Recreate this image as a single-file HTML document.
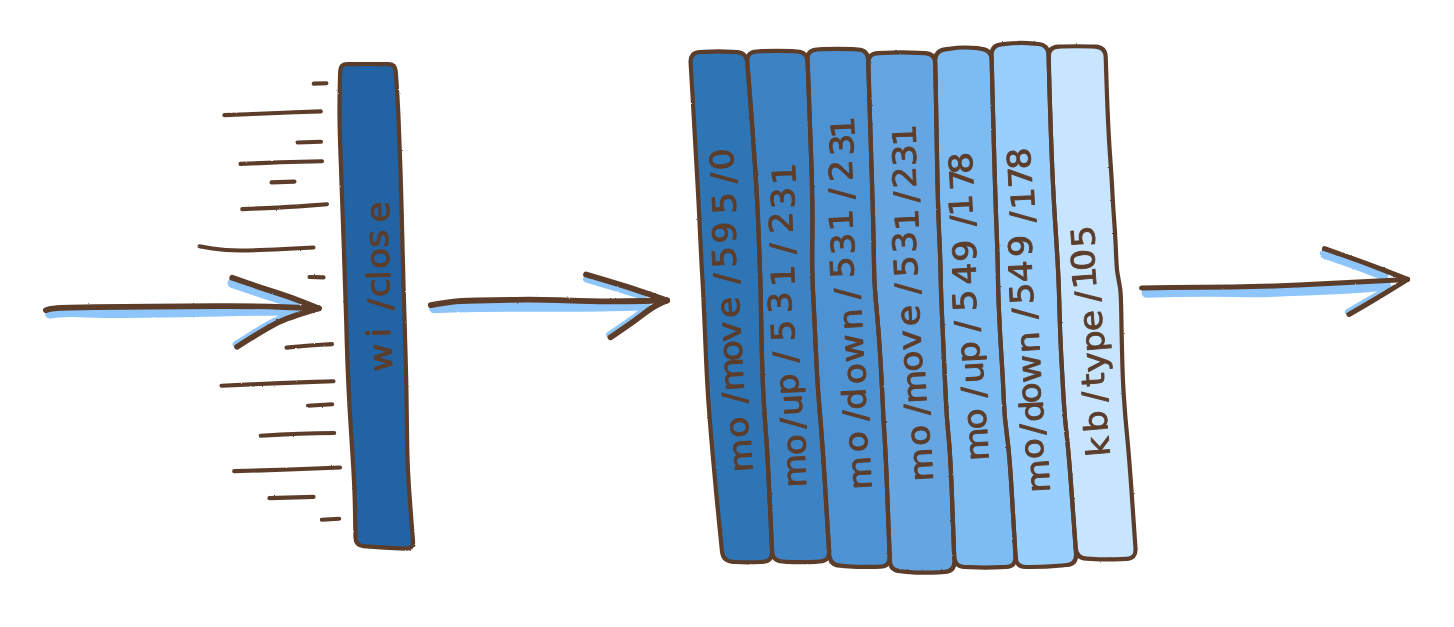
<!DOCTYPE html>
<html lang="en">
<head>
<meta charset="utf-8">
<title>Event queue</title>
<style>
html,body{margin:0;padding:0;background:#fff;}
body{width:1454px;height:627px;overflow:hidden;}
svg{display:block;}
text{font-family:"DejaVu Sans", "Liberation Sans", sans-serif;font-size:32px;fill:#5c3d2c;stroke:#5c3d2c;stroke-width:0.9px;stroke-linejoin:round;font-kerning:none;}
</style>
</head>
<body>
<svg width="1454" height="627" viewBox="0 0 1454 627">
<defs>
<filter id="rough" x="0" y="0" width="1454" height="627" filterUnits="userSpaceOnUse">
<feTurbulence type="fractalNoise" baseFrequency="0.42" numOctaves="1" seed="7" result="n"/>
<feDisplacementMap in="SourceGraphic" in2="n" scale="2.0" xChannelSelector="R" yChannelSelector="G"/>
</filter>
<filter id="rough2" x="0" y="0" width="1454" height="627" filterUnits="userSpaceOnUse">
<feTurbulence type="fractalNoise" baseFrequency="0.3" numOctaves="1" seed="3" result="n"/>
<feDisplacementMap in="SourceGraphic" in2="n" scale="1.4" xChannelSelector="R" yChannelSelector="G"/>
</filter>
</defs>
<rect width="1454" height="627" fill="#ffffff"/>
<g filter="url(#rough)">
<g id="shadows">
<path d="M50.0 313.6L59.0 312.6Q68.0 311.6 87.0 312.4L87.0 312.4Q106.0 313.2 125.5 313.0L125.5 313.0Q145.0 312.8 167.5 312.4L167.5 312.4Q190.0 311.9 218.5 311.4L218.5 311.4Q247.0 310.8 271.5 310.7L296.0 310.6" fill="none" stroke="#8ec6fb" stroke-width="10" stroke-linecap="round" stroke-linejoin="round"/>
<path d="M232.5 283.0L246.5 287.8Q260.5 292.6 274.4 297.0L274.4 297.0Q288.2 301.5 291.5 302.7L294.7 304.0" fill="none" stroke="#8ec6fb" stroke-width="10" stroke-linecap="round" stroke-linejoin="round"/>
<path d="M235.9 344.2L248.7 336.2Q261.5 328.2 269.7 323.7L269.7 323.7Q277.8 319.2 283.6 316.9L289.4 314.7" fill="none" stroke="#8ec6fb" stroke-width="6.5" stroke-linecap="round" stroke-linejoin="round"/>
<path d="M434.0 308.6L446.0 308.1Q458.0 307.5 477.0 307.2L477.0 307.2Q496.0 306.9 515.5 306.9L515.5 306.9Q535.0 306.9 557.5 306.9L557.5 307.0Q580.0 307.0 600.0 306.8L600.0 306.8Q620.0 306.5 633.0 306.1L646.0 305.8" fill="none" stroke="#8ec6fb" stroke-width="9.5" stroke-linecap="round" stroke-linejoin="round"/>
<path d="M586.8 278.9L607.7 285.1Q628.7 291.3 635.9 293.8L643.0 296.3" fill="none" stroke="#8ec6fb" stroke-width="7.5" stroke-linecap="round" stroke-linejoin="round"/>
<path d="M609.3 334.7L620.8 326.9Q632.3 319.2 637.9 314.9L643.4 310.6" fill="none" stroke="#8ec6fb" stroke-width="6.5" stroke-linecap="round" stroke-linejoin="round"/>
<path d="M1146.5 292.7L1176.2 292.0Q1206.0 291.4 1234.8 291.9L1234.8 291.9Q1263.6 292.5 1281.8 291.6L1281.8 291.6Q1300.0 290.7 1324.0 289.8L1324.0 289.8Q1348.0 288.8 1367.0 287.2L1386.0 285.5" fill="none" stroke="#8ec6fb" stroke-width="10" stroke-linecap="round" stroke-linejoin="round"/>
<path d="M1324.8 253.8L1343.5 260.3Q1362.3 266.9 1372.8 271.0L1383.4 275.1" fill="none" stroke="#8ec6fb" stroke-width="10" stroke-linecap="round" stroke-linejoin="round"/>
<path d="M1348.1 312.0L1363.4 303.1Q1378.6 294.3 1379.6 293.7L1380.7 293.0" fill="none" stroke="#8ec6fb" stroke-width="6.5" stroke-linecap="round" stroke-linejoin="round"/>
</g>
<g id="strokes">
<path d="M45.8 310.2L48.9 309.3Q52.0 308.4 61.0 307.9L61.0 307.9Q70.0 307.5 95.0 307.2L95.0 307.2Q120.0 306.9 151.5 306.6L151.5 306.6Q183.0 306.4 216.5 306.1L216.5 306.1Q250.0 305.8 284.4 307.1L318.8 308.3" fill="none" stroke="#5c3d2c" stroke-width="5.7" stroke-linecap="round" stroke-linejoin="round"/>
<path d="M232.2 277.8L247.1 282.9Q262.0 288.0 276.0 292.5L276.0 292.5Q290.0 297.0 304.4 302.6L318.8 308.3" fill="none" stroke="#5c3d2c" stroke-width="5.7" stroke-linecap="round" stroke-linejoin="round"/>
<path d="M237.0 346.8L249.9 338.7Q262.9 330.6 270.9 326.2L270.9 326.2Q278.8 321.8 286.8 318.7L286.8 318.7Q294.7 315.6 306.8 311.9L318.8 308.3" fill="none" stroke="#5c3d2c" stroke-width="5.7" stroke-linecap="round" stroke-linejoin="round"/>
<path d="M430.8 305.2L437.9 303.9Q445.0 302.6 451.6 301.8L451.6 301.8Q458.3 300.9 477.4 300.5L477.4 300.5Q496.5 300.2 515.6 299.8L515.6 299.8Q534.8 299.4 557.4 300.2L557.4 300.2Q580.0 301.1 600.0 301.4L600.0 301.4Q620.0 301.6 643.5 301.0L667.0 300.4" fill="none" stroke="#5c3d2c" stroke-width="5.8" stroke-linecap="round" stroke-linejoin="round"/>
<path d="M586.0 274.5L608.0 281.0Q630.0 287.5 648.5 293.9L667.0 300.4" fill="none" stroke="#5c3d2c" stroke-width="5.8" stroke-linecap="round" stroke-linejoin="round"/>
<path d="M610.5 337.3L622.2 329.4Q634.0 321.4 643.5 314.0L643.5 314.0Q653.0 306.6 660.0 303.5L667.0 300.4" fill="none" stroke="#5c3d2c" stroke-width="5.8" stroke-linecap="round" stroke-linejoin="round"/>
<path d="M1141.5 288.0L1170.8 287.6Q1200.0 287.2 1232.0 287.0L1232.0 287.0Q1264.0 286.8 1303.9 284.8L1308.1 284.5Q1348.0 282.5 1377.8 280.9L1407.5 279.4" fill="none" stroke="#5c3d2c" stroke-width="5.0" stroke-linecap="round" stroke-linejoin="round"/>
<path d="M1324.5 248.6L1344.2 255.5Q1364.0 262.4 1385.8 270.9L1407.5 279.4" fill="none" stroke="#5c3d2c" stroke-width="5.0" stroke-linecap="round" stroke-linejoin="round"/>
<path d="M1349.0 314.5L1364.5 305.5Q1380.0 296.5 1393.8 287.9L1407.5 279.4" fill="none" stroke="#5c3d2c" stroke-width="5.0" stroke-linecap="round" stroke-linejoin="round"/>
<path d="M313.7 83.6L326.4 83.2" fill="none" stroke="#5c3d2c" stroke-width="4.1" stroke-linecap="round" stroke-linejoin="round"/>
<path d="M224.4 115.1L247.2 114.2Q270.0 113.2 295.4 112.3L320.8 111.4" fill="none" stroke="#5c3d2c" stroke-width="4.1" stroke-linecap="round" stroke-linejoin="round"/>
<path d="M297.5 142.5L321.0 141.7" fill="none" stroke="#5c3d2c" stroke-width="4.1" stroke-linecap="round" stroke-linejoin="round"/>
<path d="M240.5 163.9L260.3 163.1Q280.0 162.2 301.0 161.7L322.0 161.2" fill="none" stroke="#5c3d2c" stroke-width="4.1" stroke-linecap="round" stroke-linejoin="round"/>
<path d="M271.5 182.4L294.5 181.6" fill="none" stroke="#5c3d2c" stroke-width="4.1" stroke-linecap="round" stroke-linejoin="round"/>
<path d="M242.3 209.1L266.2 208.1Q290.0 207.0 308.5 205.6L327.0 204.2" fill="none" stroke="#5c3d2c" stroke-width="4.1" stroke-linecap="round" stroke-linejoin="round"/>
<path d="M199.5 246.3L212.3 248.4Q225.0 250.5 240.0 250.5L240.0 250.5Q255.0 250.5 284.2 249.0L313.5 247.5" fill="none" stroke="#5c3d2c" stroke-width="4.1" stroke-linecap="round" stroke-linejoin="round"/>
<path d="M309.5 277.0L323.5 277.4" fill="none" stroke="#5c3d2c" stroke-width="4.1" stroke-linecap="round" stroke-linejoin="round"/>
<path d="M286.5 347.6L298.3 346.5Q310.0 345.4 321.0 344.8L332.0 344.1" fill="none" stroke="#5c3d2c" stroke-width="4.1" stroke-linecap="round" stroke-linejoin="round"/>
<path d="M221.5 385.7L250.8 384.4Q280.0 383.0 306.7 382.1L333.5 381.3" fill="none" stroke="#5c3d2c" stroke-width="4.1" stroke-linecap="round" stroke-linejoin="round"/>
<path d="M308.0 405.7L332.2 404.3" fill="none" stroke="#5c3d2c" stroke-width="4.1" stroke-linecap="round" stroke-linejoin="round"/>
<path d="M260.7 435.7L280.4 434.6Q300.0 433.6 317.1 433.3L334.2 433.0" fill="none" stroke="#5c3d2c" stroke-width="4.1" stroke-linecap="round" stroke-linejoin="round"/>
<path d="M234.2 471.1L262.1 470.4Q290.0 469.6 315.0 468.5L340.0 467.5" fill="none" stroke="#5c3d2c" stroke-width="4.1" stroke-linecap="round" stroke-linejoin="round"/>
<path d="M269.4 498.1L313.6 496.9" fill="none" stroke="#5c3d2c" stroke-width="4.1" stroke-linecap="round" stroke-linejoin="round"/>
<path d="M321.8 519.7L339.2 518.7" fill="none" stroke="#5c3d2c" stroke-width="4.1" stroke-linecap="round" stroke-linejoin="round"/>
</g>
<g id="fills">
<path d="M340.2 71.2Q340.4 64.2 347.4 64.1L354.1 64.1Q367.8 63.9 381.5 64.1L388.2 64.1Q395.2 64.2 395.7 71.2L396.5 82.1Q397.7 100.0 398.4 115.0L398.4 115.0Q399.0 130.0 400.1 160.0L400.1 160.0Q401.2 190.0 402.1 230.0L402.4 241.0Q403.3 281.0 404.6 321.0L405.1 340.0Q406.4 380.0 406.7 410.0L406.7 410.0Q407.0 440.0 407.4 455.0L407.4 455.0Q407.8 470.0 408.8 485.0L408.8 485.0Q409.8 500.0 411.7 524.4L413.0 540.8Q413.7 548.8 405.7 548.6L399.1 548.4Q384.6 547.9 370.1 546.7L363.6 546.2Q355.6 545.5 355.5 537.5L355.2 522.8Q354.9 500.0 354.2 485.0L354.2 485.0Q353.5 470.0 352.5 455.0L352.5 455.0Q351.5 440.0 349.7 410.0L349.7 410.0Q347.9 380.0 346.7 340.0L346.2 321.0Q345.0 281.0 343.6 241.0L343.2 230.0Q341.8 190.0 340.7 160.0L340.7 160.0Q339.6 130.0 339.5 115.0L339.5 115.0Q339.4 100.0 339.9 82.1Z" fill="#2163a3"/>
<path d="M690.6 62.5Q690.0 52.5 700.0 52.0L704.2 51.8Q718.3 51.0 732.4 51.8L736.6 52.0Q746.5 52.5 747.3 62.5L749.6 91.2Q752.6 130.0 755.1 167.5L755.1 167.5Q757.6 205.0 758.6 232.5L758.6 232.5Q759.6 260.0 760.1 273.5L760.1 273.5Q760.6 287.0 761.0 311.0L761.0 311.0Q761.4 335.0 762.0 357.5L762.0 357.5Q762.6 380.0 763.6 398.5L763.6 398.5Q764.6 417.0 766.1 436.0L766.1 436.0Q767.6 455.0 769.4 495.0L772.1 551.3Q772.5 561.3 762.5 561.9L760.1 562.0Q747.8 562.8 735.4 562.0L733.0 561.9Q723.0 561.3 722.0 551.4L719.9 530.6Q716.8 500.0 714.8 477.5L714.8 477.5Q712.7 455.0 711.1 436.0L711.1 436.0Q709.5 417.0 708.2 398.5L708.2 398.5Q707.0 380.0 706.0 357.5L706.0 357.5Q705.0 335.0 704.0 311.0L704.0 311.0Q703.0 287.0 702.1 273.5L702.1 273.5Q701.3 260.0 700.0 232.5L700.0 232.5Q698.8 205.0 696.6 167.5L696.6 167.5Q694.5 130.0 692.3 91.2Z" fill="#2f75b5"/>
<path d="M747.3 62.0Q746.5 52.0 756.5 51.5L761.7 51.2Q776.9 50.5 792.0 51.2L797.2 51.5Q807.2 52.0 807.6 62.0L808.7 91.0Q810.2 130.0 811.5 167.5L811.5 167.5Q812.7 205.0 812.4 232.5L812.4 232.5Q812.0 260.0 812.4 273.5L812.4 273.5Q812.7 287.0 814.0 311.0L814.0 311.0Q815.2 335.0 816.2 357.5L816.2 357.5Q817.2 380.0 818.7 398.5L818.7 398.5Q820.2 417.0 821.7 436.0L821.7 436.0Q823.2 455.0 825.6 494.9L829.1 551.0Q829.7 561.0 819.7 561.5L815.4 561.8Q801.1 562.5 786.8 561.8L782.5 561.5Q772.5 561.0 772.0 551.0L769.4 495.0Q767.6 455.0 766.1 436.0L766.1 436.0Q764.6 417.0 763.6 398.5L763.6 398.5Q762.6 380.0 762.0 357.5L762.0 357.5Q761.4 335.0 761.0 311.0L761.0 311.0Q760.6 287.0 760.1 273.5L760.1 273.5Q759.6 260.0 758.6 232.5L758.6 232.5Q757.6 205.0 755.1 167.5L755.1 167.5Q752.6 130.0 749.5 91.0Z" fill="#3e83c4"/>
<path d="M807.5 60.0Q807.1 50.0 817.1 49.5L822.3 49.2Q837.5 48.5 852.7 49.2L858.0 49.5Q867.9 50.0 868.2 60.0L869.1 90.0Q870.3 130.0 871.5 167.5L871.5 167.5Q872.8 205.0 873.4 232.5L873.4 232.5Q874.0 260.0 874.2 273.5L874.2 273.5Q874.5 287.0 876.8 311.0L876.8 311.0Q879.0 335.0 880.3 357.5L880.3 357.5Q881.6 380.0 882.5 398.5L882.5 398.5Q883.3 417.0 884.5 436.0L884.5 436.0Q885.8 455.0 887.3 495.0L889.7 556.5Q890.1 566.5 880.1 566.7L875.0 566.9Q860.0 567.2 845.0 566.1L839.9 565.7Q830.0 565.0 829.3 555.0L825.6 494.9Q823.2 455.0 821.7 436.0L821.7 436.0Q820.2 417.0 818.7 398.5L818.7 398.5Q817.2 380.0 816.2 357.5L816.2 357.5Q815.2 335.0 814.0 311.0L814.0 311.0Q812.7 287.0 812.4 273.5L812.4 273.5Q812.0 260.0 812.4 232.5L812.4 232.5Q812.7 205.0 811.5 167.5L811.5 167.5Q810.2 130.0 808.7 90.0Z" fill="#4e92d2"/>
<path d="M868.3 63.5Q868.0 53.5 878.0 53.1L884.8 52.8Q901.5 52.0 918.3 52.8L925.0 53.1Q935.0 53.5 935.2 63.5L935.8 91.8Q936.6 130.0 937.2 167.5L937.2 167.5Q937.9 205.0 939.1 232.5L939.1 232.5Q940.4 260.0 940.6 273.5L940.6 273.5Q940.8 287.0 941.8 311.0L941.8 311.0Q942.9 335.0 943.9 357.5L943.9 357.5Q944.9 380.0 945.8 398.5L945.8 398.5Q946.6 417.0 948.5 436.0L948.5 436.0Q950.4 455.0 951.9 495.0L954.4 561.3Q954.7 571.3 944.8 571.9L938.6 572.3Q922.5 573.3 906.3 571.8L900.1 571.2Q890.2 570.3 889.8 560.3L887.3 495.0Q885.8 455.0 884.5 436.0L884.5 436.0Q883.3 417.0 882.5 398.5L882.5 398.5Q881.6 380.0 880.3 357.5L880.3 357.5Q879.0 335.0 876.8 311.0L876.8 311.0Q874.5 287.0 874.2 273.5L874.2 273.5Q874.0 260.0 873.4 232.5L873.4 232.5Q872.8 205.0 871.5 167.5L871.5 167.5Q870.3 130.0 869.2 91.8Z" fill="#65a6e2"/>
<path d="M935.2 61.0Q935.0 51.0 944.9 49.4L949.1 48.8Q963.2 46.5 977.3 48.2L981.5 48.8Q991.5 50.0 991.7 60.0L992.4 90.0Q993.4 130.0 994.5 167.5L994.5 167.5Q995.6 205.0 996.7 232.5L996.7 232.5Q997.7 260.0 997.9 273.5L997.9 273.5Q998.0 287.0 999.0 311.0L999.0 311.0Q1000.0 335.0 1001.5 357.5L1001.5 357.5Q1003.0 380.0 1003.7 398.5L1003.7 398.5Q1004.4 417.0 1007.0 436.0L1007.0 436.0Q1009.6 455.0 1011.9 494.9L1015.5 556.5Q1016.1 566.5 1006.1 567.0L1000.7 567.2Q985.3 568.0 969.9 567.2L964.5 567.0Q954.6 566.5 954.2 556.5L951.9 495.0Q950.4 455.0 948.5 436.0L948.5 436.0Q946.6 417.0 945.8 398.5L945.8 398.5Q944.9 380.0 943.9 357.5L943.9 357.5Q942.9 335.0 941.8 311.0L941.8 311.0Q940.8 287.0 940.6 273.5L940.6 273.5Q940.4 260.0 939.1 232.5L939.1 232.5Q937.9 205.0 937.2 167.5L937.2 167.5Q936.6 130.0 935.8 90.5Z" fill="#7dbbf3"/>
<path d="M991.6 55.5Q991.3 45.5 1001.3 44.4L1005.6 43.9Q1019.8 42.2 1034.1 43.6L1038.4 44.0Q1048.3 45.0 1048.6 55.0L1049.5 90.0Q1050.6 130.0 1052.2 167.5L1052.2 167.5Q1053.9 205.0 1055.8 232.5L1055.8 232.5Q1057.6 260.0 1058.2 273.5L1058.2 273.5Q1058.9 287.0 1059.5 311.0L1059.5 311.0Q1060.1 335.0 1061.3 357.5L1061.3 357.5Q1062.6 380.0 1063.6 398.5L1063.6 398.5Q1064.6 417.0 1066.8 436.0L1066.8 436.0Q1068.9 455.0 1071.8 494.9L1076.0 554.0Q1076.7 564.0 1066.8 565.0L1061.6 565.5Q1046.4 567.0 1031.3 567.0L1026.1 567.0Q1016.1 567.0 1015.6 557.0L1011.9 494.9Q1009.6 455.0 1007.0 436.0L1007.0 436.0Q1004.4 417.0 1003.7 398.5L1003.7 398.5Q1003.0 380.0 1001.5 357.5L1001.5 357.5Q1000.0 335.0 999.0 311.0L999.0 311.0Q998.0 287.0 997.9 273.5L997.9 273.5Q997.7 260.0 996.7 232.5L996.7 232.5Q995.6 205.0 994.5 167.5L994.5 167.5Q993.4 130.0 992.4 90.0Z" fill="#98cfff"/>
<path d="M1048.6 57.0Q1048.4 47.0 1058.4 46.6L1062.6 46.5Q1076.8 46.0 1091.1 46.5L1095.3 46.6Q1105.3 47.0 1105.7 57.0L1106.8 90.0Q1108.2 130.0 1110.0 155.0L1110.0 155.0Q1111.8 180.0 1112.4 192.5L1112.4 192.5Q1113.0 205.0 1114.0 218.0L1114.0 218.0Q1115.0 231.0 1115.7 245.5L1115.7 245.5Q1116.3 260.0 1116.7 266.0L1116.7 266.0Q1117.0 272.0 1118.2 277.5L1118.2 277.5Q1119.3 283.0 1120.2 289.0L1120.2 289.0Q1121.0 295.0 1121.3 315.0L1121.3 315.0Q1121.6 335.0 1122.2 357.5L1122.2 357.5Q1122.7 380.0 1124.0 398.5L1124.0 398.5Q1125.2 417.0 1127.1 436.0L1127.1 436.0Q1129.0 455.0 1131.8 494.9L1135.5 548.5Q1136.2 558.5 1126.2 558.9L1121.2 559.1Q1106.3 559.8 1091.3 558.9L1086.4 558.6Q1076.4 558.0 1075.7 548.0L1071.8 494.9Q1068.9 455.0 1066.8 436.0L1066.8 436.0Q1064.6 417.0 1063.6 398.5L1063.6 398.5Q1062.6 380.0 1061.3 357.5L1061.3 357.5Q1060.1 335.0 1059.5 311.0L1059.5 311.0Q1058.9 287.0 1058.2 273.5L1058.2 273.5Q1057.6 260.0 1055.8 232.5L1055.8 232.5Q1053.9 205.0 1052.2 167.5L1052.2 167.5Q1050.6 130.0 1049.5 90.0Z" fill="#c7e5ff"/>
</g>
<g id="outlines">
<path d="M340.2 71.2Q340.4 64.2 347.4 64.1L354.1 64.1Q367.8 63.9 381.5 64.1L388.2 64.1Q395.2 64.2 395.7 71.2L396.5 82.1Q397.7 100.0 398.4 115.0L398.4 115.0Q399.0 130.0 400.1 160.0L400.1 160.0Q401.2 190.0 402.1 230.0L402.4 241.0Q403.3 281.0 404.6 321.0L405.1 340.0Q406.4 380.0 406.7 410.0L406.7 410.0Q407.0 440.0 407.4 455.0L407.4 455.0Q407.8 470.0 408.8 485.0L408.8 485.0Q409.8 500.0 411.7 524.4L413.0 540.8Q413.7 548.8 405.7 548.6L399.1 548.4Q384.6 547.9 370.1 546.7L363.6 546.2Q355.6 545.5 355.5 537.5L355.2 522.8Q354.9 500.0 354.2 485.0L354.2 485.0Q353.5 470.0 352.5 455.0L352.5 455.0Q351.5 440.0 349.7 410.0L349.7 410.0Q347.9 380.0 346.7 340.0L346.2 321.0Q345.0 281.0 343.6 241.0L343.2 230.0Q341.8 190.0 340.7 160.0L340.7 160.0Q339.6 130.0 339.5 115.0L339.5 115.0Q339.4 100.0 339.9 82.1Z" fill="none" stroke="#5c3d2c" stroke-width="4.2" stroke-linejoin="round"/>
<path d="M690.6 62.5Q690.0 52.5 700.0 52.0L704.2 51.8Q718.3 51.0 732.4 51.8L736.6 52.0Q746.5 52.5 747.3 62.5L749.6 91.2Q752.6 130.0 755.1 167.5L755.1 167.5Q757.6 205.0 758.6 232.5L758.6 232.5Q759.6 260.0 760.1 273.5L760.1 273.5Q760.6 287.0 761.0 311.0L761.0 311.0Q761.4 335.0 762.0 357.5L762.0 357.5Q762.6 380.0 763.6 398.5L763.6 398.5Q764.6 417.0 766.1 436.0L766.1 436.0Q767.6 455.0 769.4 495.0L772.1 551.3Q772.5 561.3 762.5 561.9L760.1 562.0Q747.8 562.8 735.4 562.0L733.0 561.9Q723.0 561.3 722.0 551.4L719.9 530.6Q716.8 500.0 714.8 477.5L714.8 477.5Q712.7 455.0 711.1 436.0L711.1 436.0Q709.5 417.0 708.2 398.5L708.2 398.5Q707.0 380.0 706.0 357.5L706.0 357.5Q705.0 335.0 704.0 311.0L704.0 311.0Q703.0 287.0 702.1 273.5L702.1 273.5Q701.3 260.0 700.0 232.5L700.0 232.5Q698.8 205.0 696.6 167.5L696.6 167.5Q694.5 130.0 692.3 91.2Z" fill="none" stroke="#5c3d2c" stroke-width="4.2" stroke-linejoin="round"/>
<path d="M747.3 62.0Q746.5 52.0 756.5 51.5L761.7 51.2Q776.9 50.5 792.0 51.2L797.2 51.5Q807.2 52.0 807.6 62.0L808.7 91.0Q810.2 130.0 811.5 167.5L811.5 167.5Q812.7 205.0 812.4 232.5L812.4 232.5Q812.0 260.0 812.4 273.5L812.4 273.5Q812.7 287.0 814.0 311.0L814.0 311.0Q815.2 335.0 816.2 357.5L816.2 357.5Q817.2 380.0 818.7 398.5L818.7 398.5Q820.2 417.0 821.7 436.0L821.7 436.0Q823.2 455.0 825.6 494.9L829.1 551.0Q829.7 561.0 819.7 561.5L815.4 561.8Q801.1 562.5 786.8 561.8L782.5 561.5Q772.5 561.0 772.0 551.0L769.4 495.0Q767.6 455.0 766.1 436.0L766.1 436.0Q764.6 417.0 763.6 398.5L763.6 398.5Q762.6 380.0 762.0 357.5L762.0 357.5Q761.4 335.0 761.0 311.0L761.0 311.0Q760.6 287.0 760.1 273.5L760.1 273.5Q759.6 260.0 758.6 232.5L758.6 232.5Q757.6 205.0 755.1 167.5L755.1 167.5Q752.6 130.0 749.5 91.0Z" fill="none" stroke="#5c3d2c" stroke-width="4.2" stroke-linejoin="round"/>
<path d="M807.5 60.0Q807.1 50.0 817.1 49.5L822.3 49.2Q837.5 48.5 852.7 49.2L858.0 49.5Q867.9 50.0 868.2 60.0L869.1 90.0Q870.3 130.0 871.5 167.5L871.5 167.5Q872.8 205.0 873.4 232.5L873.4 232.5Q874.0 260.0 874.2 273.5L874.2 273.5Q874.5 287.0 876.8 311.0L876.8 311.0Q879.0 335.0 880.3 357.5L880.3 357.5Q881.6 380.0 882.5 398.5L882.5 398.5Q883.3 417.0 884.5 436.0L884.5 436.0Q885.8 455.0 887.3 495.0L889.7 556.5Q890.1 566.5 880.1 566.7L875.0 566.9Q860.0 567.2 845.0 566.1L839.9 565.7Q830.0 565.0 829.3 555.0L825.6 494.9Q823.2 455.0 821.7 436.0L821.7 436.0Q820.2 417.0 818.7 398.5L818.7 398.5Q817.2 380.0 816.2 357.5L816.2 357.5Q815.2 335.0 814.0 311.0L814.0 311.0Q812.7 287.0 812.4 273.5L812.4 273.5Q812.0 260.0 812.4 232.5L812.4 232.5Q812.7 205.0 811.5 167.5L811.5 167.5Q810.2 130.0 808.7 90.0Z" fill="none" stroke="#5c3d2c" stroke-width="4.2" stroke-linejoin="round"/>
<path d="M868.3 63.5Q868.0 53.5 878.0 53.1L884.8 52.8Q901.5 52.0 918.3 52.8L925.0 53.1Q935.0 53.5 935.2 63.5L935.8 91.8Q936.6 130.0 937.2 167.5L937.2 167.5Q937.9 205.0 939.1 232.5L939.1 232.5Q940.4 260.0 940.6 273.5L940.6 273.5Q940.8 287.0 941.8 311.0L941.8 311.0Q942.9 335.0 943.9 357.5L943.9 357.5Q944.9 380.0 945.8 398.5L945.8 398.5Q946.6 417.0 948.5 436.0L948.5 436.0Q950.4 455.0 951.9 495.0L954.4 561.3Q954.7 571.3 944.8 571.9L938.6 572.3Q922.5 573.3 906.3 571.8L900.1 571.2Q890.2 570.3 889.8 560.3L887.3 495.0Q885.8 455.0 884.5 436.0L884.5 436.0Q883.3 417.0 882.5 398.5L882.5 398.5Q881.6 380.0 880.3 357.5L880.3 357.5Q879.0 335.0 876.8 311.0L876.8 311.0Q874.5 287.0 874.2 273.5L874.2 273.5Q874.0 260.0 873.4 232.5L873.4 232.5Q872.8 205.0 871.5 167.5L871.5 167.5Q870.3 130.0 869.2 91.8Z" fill="none" stroke="#5c3d2c" stroke-width="4.2" stroke-linejoin="round"/>
<path d="M935.2 61.0Q935.0 51.0 944.9 49.4L949.1 48.8Q963.2 46.5 977.3 48.2L981.5 48.8Q991.5 50.0 991.7 60.0L992.4 90.0Q993.4 130.0 994.5 167.5L994.5 167.5Q995.6 205.0 996.7 232.5L996.7 232.5Q997.7 260.0 997.9 273.5L997.9 273.5Q998.0 287.0 999.0 311.0L999.0 311.0Q1000.0 335.0 1001.5 357.5L1001.5 357.5Q1003.0 380.0 1003.7 398.5L1003.7 398.5Q1004.4 417.0 1007.0 436.0L1007.0 436.0Q1009.6 455.0 1011.9 494.9L1015.5 556.5Q1016.1 566.5 1006.1 567.0L1000.7 567.2Q985.3 568.0 969.9 567.2L964.5 567.0Q954.6 566.5 954.2 556.5L951.9 495.0Q950.4 455.0 948.5 436.0L948.5 436.0Q946.6 417.0 945.8 398.5L945.8 398.5Q944.9 380.0 943.9 357.5L943.9 357.5Q942.9 335.0 941.8 311.0L941.8 311.0Q940.8 287.0 940.6 273.5L940.6 273.5Q940.4 260.0 939.1 232.5L939.1 232.5Q937.9 205.0 937.2 167.5L937.2 167.5Q936.6 130.0 935.8 90.5Z" fill="none" stroke="#5c3d2c" stroke-width="4.2" stroke-linejoin="round"/>
<path d="M991.6 55.5Q991.3 45.5 1001.3 44.4L1005.6 43.9Q1019.8 42.2 1034.1 43.6L1038.4 44.0Q1048.3 45.0 1048.6 55.0L1049.5 90.0Q1050.6 130.0 1052.2 167.5L1052.2 167.5Q1053.9 205.0 1055.8 232.5L1055.8 232.5Q1057.6 260.0 1058.2 273.5L1058.2 273.5Q1058.9 287.0 1059.5 311.0L1059.5 311.0Q1060.1 335.0 1061.3 357.5L1061.3 357.5Q1062.6 380.0 1063.6 398.5L1063.6 398.5Q1064.6 417.0 1066.8 436.0L1066.8 436.0Q1068.9 455.0 1071.8 494.9L1076.0 554.0Q1076.7 564.0 1066.8 565.0L1061.6 565.5Q1046.4 567.0 1031.3 567.0L1026.1 567.0Q1016.1 567.0 1015.6 557.0L1011.9 494.9Q1009.6 455.0 1007.0 436.0L1007.0 436.0Q1004.4 417.0 1003.7 398.5L1003.7 398.5Q1003.0 380.0 1001.5 357.5L1001.5 357.5Q1000.0 335.0 999.0 311.0L999.0 311.0Q998.0 287.0 997.9 273.5L997.9 273.5Q997.7 260.0 996.7 232.5L996.7 232.5Q995.6 205.0 994.5 167.5L994.5 167.5Q993.4 130.0 992.4 90.0Z" fill="none" stroke="#5c3d2c" stroke-width="4.2" stroke-linejoin="round"/>
<path d="M1048.6 57.0Q1048.4 47.0 1058.4 46.6L1062.6 46.5Q1076.8 46.0 1091.1 46.5L1095.3 46.6Q1105.3 47.0 1105.7 57.0L1106.8 90.0Q1108.2 130.0 1110.0 155.0L1110.0 155.0Q1111.8 180.0 1112.4 192.5L1112.4 192.5Q1113.0 205.0 1114.0 218.0L1114.0 218.0Q1115.0 231.0 1115.7 245.5L1115.7 245.5Q1116.3 260.0 1116.7 266.0L1116.7 266.0Q1117.0 272.0 1118.2 277.5L1118.2 277.5Q1119.3 283.0 1120.2 289.0L1120.2 289.0Q1121.0 295.0 1121.3 315.0L1121.3 315.0Q1121.6 335.0 1122.2 357.5L1122.2 357.5Q1122.7 380.0 1124.0 398.5L1124.0 398.5Q1125.2 417.0 1127.1 436.0L1127.1 436.0Q1129.0 455.0 1131.8 494.9L1135.5 548.5Q1136.2 558.5 1126.2 558.9L1121.2 559.1Q1106.3 559.8 1091.3 558.9L1086.4 558.6Q1076.4 558.0 1075.7 548.0L1071.8 494.9Q1068.9 455.0 1066.8 436.0L1066.8 436.0Q1064.6 417.0 1063.6 398.5L1063.6 398.5Q1062.6 380.0 1061.3 357.5L1061.3 357.5Q1060.1 335.0 1059.5 311.0L1059.5 311.0Q1058.9 287.0 1058.2 273.5L1058.2 273.5Q1057.6 260.0 1055.8 232.5L1055.8 232.5Q1053.9 205.0 1052.2 167.5L1052.2 167.5Q1050.6 130.0 1049.5 90.0Z" fill="none" stroke="#5c3d2c" stroke-width="4.2" stroke-linejoin="round"/>
</g>
</g>
<g id="labels" filter="url(#rough2)">
<text transform="translate(391.5 357.3) rotate(-91.35) scale(1.08 1)" x="-13.1 18.6 31.3 43.7 55.8 71.9 82.0 101.7 124.9" y="0.4 -0.7 0.1 0.9 -0.7 0.6 -0.3 -1.0 0.8" xml:space="preserve">wi /close</text>
<text transform="translate(749.4 455.1) rotate(-93.44) scale(1.08 1)" x="-15.6 16.5 48.2 59.7 87.6 106.0 127.7 159.0 174.2 196.9 224.1 252.0 264.7" y="2.4 0.4 -0.6 -1.5 -1.2 -1.2 -1.1 -1.6 -1.9 -0.4 1.3 1.4 1.5" xml:space="preserve">mo/move/595/0</text>
<text transform="translate(803.6 470.6) rotate(-92.42) scale(1.08 1)" x="-15.6 14.6 38.7 51.1 70.2 100.4 120.0 146.3 170.8 200.7 220.3 242.8 264.9" y="2.0 3.1 2.0 1.0 -1.7 -2.6 -3.4 -5.2 -1.2 -1.0 -0.9 2.2 4.2" xml:space="preserve">mo/up/531/231</text>
<text transform="translate(869.4 472.6) rotate(-93.17) scale(1.08 1)" x="-15.6 19.3 48.0 58.8 82.4 102.8 132.5 161.1 181.0 202.6 224.6 253.8 270.5 294.3 310.3" y="1.3 -0.6 0.0 0.4 1.8 0.7 1.1 -1.8 -4.7 -2.5 -3.1 -1.7 -0.4 2.0 3.9" xml:space="preserve">mo/down/531/231</text>
<text transform="translate(929.0 464.4) rotate(-92.74) scale(1.08 1)" x="-15.6 17.4 45.7 56.7 86.4 106.4 128.6 158.1 174.0 196.6 217.0 243.1 256.4 276.7 295.2" y="3.1 2.0 1.2 0.5 -2.0 -2.2 -2.3 -2.3 -2.3 -2.5 0.9 0.7 0.6 1.6 2.6" xml:space="preserve">mo/move/531/231</text>
<text transform="translate(986.3 443.8) rotate(-93.15) scale(1.08 1)" x="-15.6 13.6 43.0 56.5 75.5 104.2 123.2 148.0 169.4 202.0 211.8 235.6 250.7" y="1.4 1.0 0.9 0.8 -1.9 -2.2 -2.5 -1.0 0.3 -0.5 -0.9 1.5 1.4" xml:space="preserve">mo/up/549/178</text>
<text transform="translate(1045.8 475.6) rotate(-92.99) scale(1.08 1)" x="-15.6 15.7 38.0 50.2 67.3 86.6 113.8 145.2 159.3 179.8 203.6 234.9 247.2 267.1 284.3" y="3.3 -1.2 -0.2 0.7 -0.9 0.4 0.4 -1.8 -3.3 -3.3 -2.0 1.0 2.9 1.6 1.3" xml:space="preserve">mo/down/549/178</text>
<text transform="translate(1110.0 445.6) rotate(-94.36) scale(1.08 1)" x="-9.3 13.1 40.8 55.7 68.7 87.3 106.7 133.9 146.4 163.2 184.8" y="-0.7 -1.2 -0.8 -0.6 1.6 2.1 1.4 -0.3 -1.6 -1.4 0.4" xml:space="preserve">kb/type/105</text>
</g>
</svg>
</body>
</html>
